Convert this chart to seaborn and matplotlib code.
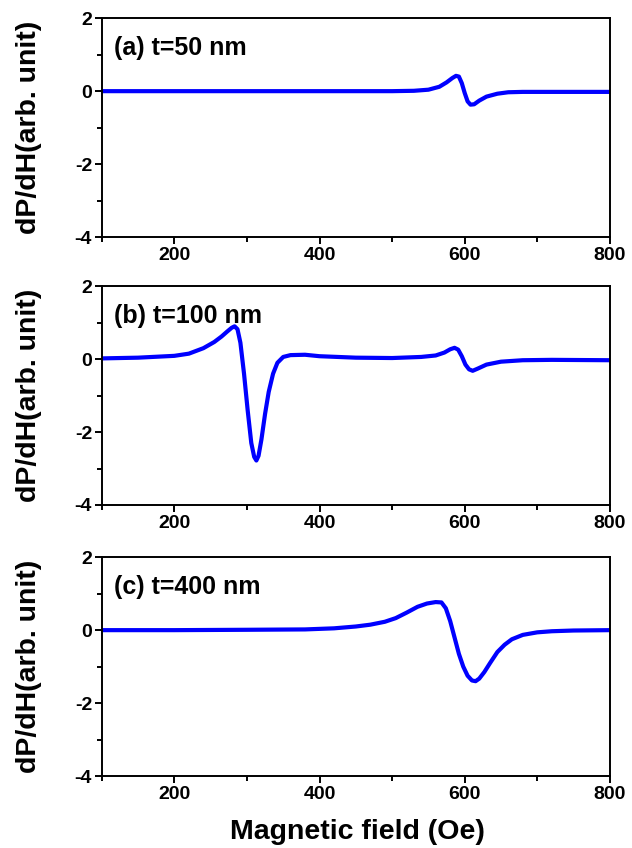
import matplotlib
matplotlib.use("Agg")
import matplotlib.pyplot as plt
import seaborn as sns
from matplotlib.ticker import MultipleLocator

sns.set_style("ticks")
plt.rcParams['font.family'] = ['Liberation Sans', 'DejaVu Sans']
plt.rcParams['font.weight'] = 'bold'
plt.rcParams['axes.unicode_minus'] = False  # 用普通连字符
for k in ['text.color', 'axes.labelcolor', 'xtick.color', 'ytick.color']:
    plt.rcParams[k] = 'black'

# 各膜厚的 FMR 微分谱
x_a = [100, 200, 300, 400, 500, 530, 550, 565, 575, 583, 588, 592, 596, 600, 604,
       608, 613, 620, 630, 645, 660, 680, 720, 800]
y_a = [0, 0, 0, 0, 0, 0.01, 0.04, 0.12, 0.24, 0.36, 0.42, 0.40, 0.22, -0.05, -0.28,
       -0.37, -0.36, -0.26, -0.15, -0.07, -0.03, -0.02, -0.02, -0.02]

x_b = [100, 150, 200, 220, 240, 255, 265, 273, 279, 283, 287, 291, 296, 301, 306,
       310, 313, 316, 320, 325, 330, 336, 342, 350, 360, 380, 400, 450, 500, 540,
       560, 572, 580, 586, 591, 596, 601, 606, 611, 618, 630, 650, 680, 720, 800]
y_b = [0.02, 0.04, 0.09, 0.15, 0.3, 0.47, 0.62, 0.76, 0.86, 0.9, 0.82, 0.45, -0.4, -1.4, -2.3,
       -2.68, -2.78, -2.65, -2.2, -1.5, -0.9, -0.4, -0.1, 0.06, 0.11, 0.12, 0.08, 0.04, 0.03, 0.06,
       0.1, 0.18, 0.27, 0.31, 0.26, 0.08, -0.15, -0.28, -0.32, -0.26, -0.15, -0.07, -0.03, -0.02, -0.03]

x_c = [100, 200, 300, 380, 420, 450, 470, 490, 505, 520, 535, 548, 560, 568, 574,
       580, 586, 592, 598, 604, 610, 615, 620, 627, 635, 645, 655, 665, 680, 700,
       720, 750, 800]
y_c = [0, 0, 0.01, 0.02, 0.05, 0.1, 0.15, 0.23, 0.33, 0.48, 0.64, 0.73, 0.77, 0.76, 0.6,
       0.25, -0.2, -0.65, -1.0, -1.25, -1.38, -1.4, -1.33, -1.15, -0.9, -0.6, -0.4, -0.25, -0.13, -0.06,
       -0.03, -0.01, 0]

panels = [(x_a, y_a, '(a) t=50 nm'),
          (x_b, y_b, '(b) t=100 nm'),
          (x_c, y_c, '(c) t=400 nm')]
x_ticks = [200, 400, 600, 800]
y_ticks = [-4, -2, 0, 2]

fig = plt.figure(figsize=(6.32, 8.48), dpi=100)
bottoms = [0.7205, 0.4045, 0.0849]

for (xs, ys, label), b in zip(panels, bottoms):
    ax = fig.add_axes([0.161, b, 0.804, 0.258])
    sns.lineplot(x=xs, y=ys, ax=ax, color='#0000ff', lw=3, sort=False, estimator=None)
    ax.set_xlim(100, 800)
    ax.set_ylim(-4, 2)
    ax.set_xticks(x_ticks)
    ax.set_yticks(y_ticks)
    ax.xaxis.set_minor_locator(MultipleLocator(100))
    ax.yaxis.set_minor_locator(MultipleLocator(1))
    ax.tick_params(which='major', direction='out', length=5, width=1.4,
                   labelsize=14, pad=2)
    ax.tick_params(which='minor', direction='out', length=3.5, width=1.4)
    for s in ax.spines.values():
        s.set_visible(True)
        s.set_linewidth(1.4)
        s.set_color('black')
    for t in ax.get_xticklabels() + ax.get_yticklabels():
        t.set_fontweight('bold')
    ax.set_ylabel('dP/dH(arb. unit)', fontsize=20.5, fontweight='bold')
    ax.yaxis.set_label_coords(-0.118, 0.5)
    ax.text(0.025, 0.863, label, transform=ax.transAxes, fontsize=18,
            fontweight='bold', va='center', ha='left')

fig.text(0.566, 0.019, 'Magnetic field (Oe)', fontsize=20.5, fontweight='bold',
         ha='center', va='center')

fig.savefig('out.png', dpi=100)
